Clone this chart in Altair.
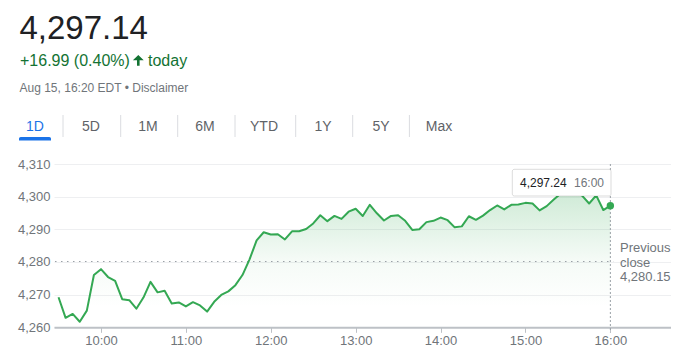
import altair as alt
import pandas as pd

# ---------------- data ----------------
MINUTES = list(range(570, 961, 5))  # 9:30 .. 16:00, 5-minute bars
PRICES = [
    4269.2, 4262.9, 4264.1, 4261.7, 4265.1, 4276.0, 4277.8, 4275.4, 4274.2, 4268.6,
    4268.3, 4265.7, 4269.1, 4273.9, 4270.7, 4271.2, 4267.3, 4267.6, 4266.4, 4267.7,
    4266.7, 4264.8, 4267.8, 4269.9, 4271.0, 4272.9, 4276.0, 4280.8, 4286.6, 4289.1,
    4288.4, 4288.5, 4286.9, 4289.4, 4289.4, 4290.1, 4291.8, 4294.3, 4292.5, 4294.1,
    4293.2, 4295.4, 4296.3, 4294.1, 4297.5, 4294.9, 4292.7, 4294.1, 4294.3, 4292.6,
    4289.8, 4290.0, 4292.2, 4292.6, 4293.6, 4292.8, 4290.6, 4290.9, 4294.0, 4292.9,
    4294.2, 4295.9, 4297.3, 4296.1, 4297.5, 4297.6, 4298.1, 4297.9, 4295.8, 4297.1,
    4299.1, 4301.0, 4301.6, 4301.2, 4300.3, 4297.9, 4300.4, 4295.9, 4297.24,
]
PREV_CLOSE = 4280.15
LAST_TIME = 960
LAST_PRICE = 4297.24
Y_TICKS = [4260, 4270, 4280, 4290, 4300, 4310]
X_TICKS = [600, 660, 720, 780, 840, 900, 960]
HEADLINE = "4,297.14"
CHANGE = "+16.99 (0.40%)"
TODAY = "today"
STAMP = "Aug 15, 16:20 EDT \u2022 Disclaimer"
TABS = ["1D", "5D", "1M", "6M", "YTD", "1Y", "5Y", "Max"]
TOOLTIP_VALUE = "4,297.24"
TOOLTIP_TIME = "16:00"
PREV_LABELS = ["Previous", "close", "4,280.15"]

# ---------------- layout (pixels, relative to plot area) ----------------
W, H = 616.5, 163.3
TAB_X = [-19, 37, 94, 151, 210, 269, 327, 385]
SEP_X = [9, 66.7, 123.7, 181, 241.7, 298.7, 355.4]
FONT = "Arial, Liberation Sans, sans-serif"
GREEN_LINE = "#34a853"
GREEN_TEXT = "#137333"
GRAY = "#70757a"
ARROW_PATH = "M0,-1 L1,-0.05 L0.24,-0.05 L0.24,1 L-0.24,1 L-0.24,-0.05 L-1,-0.05 Z"

df = pd.DataFrame({"m": MINUTES, "p": PRICES})
one = pd.DataFrame({"k": [0]})

x_scale = alt.Scale(domain=[566.8, 1002.5], nice=False, zero=False)
y_scale = alt.Scale(domain=[4260, 4310], nice=False, zero=False)
x_axis = alt.Axis(values=X_TICKS, labelExpr="floor(datum.value/60) + ':00'",
                  grid=False, tickSize=5, tickColor="#bdc1c6", domainColor="#bdc1c6",
                  domainWidth=2, labelColor=GRAY, labelFontSize=13, labelFont=FONT,
                  labelPadding=2, labelOverlap=False, title=None)
y_axis = alt.Axis(values=Y_TICKS, format=",d", ticks=False, domain=False, grid=True,
                  gridColor="#eeeff1", labelColor=GRAY, labelFontSize=13, labelFont=FONT,
                  labelPadding=4, labelOverlap=False, labelBound=False, title=None)

def X(field):
    return alt.X(field, scale=x_scale, axis=x_axis, title=None)

def Y(field):
    return alt.Y(field, scale=y_scale, axis=y_axis, title=None)

def XD(v):
    return alt.XDatum(v, type="quantitative", scale=x_scale, axis=x_axis, title=None)

def YD(v):
    return alt.YDatum(v, type="quantitative", scale=y_scale, axis=y_axis, title=None)

gradient = alt.Gradient(
    gradient="linear",
    stops=[
        alt.GradientStop(color="rgba(52,168,83,0.24)", offset=0),
        alt.GradientStop(color="rgba(52,168,83,0.05)", offset=0.5),
        alt.GradientStop(color="rgba(52,168,83,0.0)", offset=0.85),
    ],
    x1=1, x2=1, y1=0, y2=1,
)

base = alt.Chart(df)
area = base.mark_area(color=gradient, line=False).encode(x=X("m:Q"), y=Y("p:Q"), y2=alt.datum(4260))
line = base.mark_line(color=GREEN_LINE, strokeWidth=2, strokeJoin="round").encode(x=X("m:Q"), y=Y("p:Q"))

prev_rule = alt.Chart(one).mark_rule(color="#9aa0a6", strokeDash=[1.5, 4.5], strokeWidth=1.2).encode(
    x=XD(567.5), x2=alt.datum(962), y=YD(PREV_CLOSE)
)
vert_rule = alt.Chart(one).mark_rule(color="#9aa0a6", strokeDash=[2, 2], strokeWidth=1).encode(
    x=XD(LAST_TIME), y=alt.value(0), y2=alt.value(H + 5)
)
end_dot = alt.Chart(one).mark_circle(color=GREEN_LINE, opacity=1, size=55).encode(
    x=XD(LAST_TIME), y=YD(LAST_PRICE)
)

tip_box = alt.Chart(one).mark_rect(fill="white", stroke="rgba(0,0,0,0.14)", strokeWidth=1, cornerRadius=2).encode(
    x=alt.value(458.3), x2=alt.value(557), y=alt.value(5.3), y2=alt.value(32)
)
tip_val = alt.Chart(one).mark_text(align="left", baseline="middle", font=FONT, fontSize=12, color="#202124").encode(
    x=alt.value(466), y=alt.value(18.5), text=alt.value(TOOLTIP_VALUE)
)
tip_time = alt.Chart(one).mark_text(align="left", baseline="middle", font=FONT, fontSize=12, color=GRAY).encode(
    x=alt.value(520), y=alt.value(18.5), text=alt.value(TOOLTIP_TIME)
)

prev_texts = [
    alt.Chart(one).mark_text(align="left", baseline="middle", font=FONT, fontSize=13, color=GRAY).encode(
        x=alt.value(566), y=alt.value(yy), text=alt.value(t)
    )
    for t, yy in zip(PREV_LABELS, [83.7, 98.7, 113.3])
]

headline = alt.Chart(one).mark_text(align="left", baseline="alphabetic", font=FONT, fontSize=33, color="#202124").encode(
    x=alt.value(-34.5), y=alt.value(-125), text=alt.value(HEADLINE)
)
change = alt.Chart(one).mark_text(align="left", baseline="alphabetic", font=FONT, fontSize=16, color=GREEN_TEXT).encode(
    x=alt.value(-34), y=alt.value(-98.5), text=alt.value(CHANGE)
)
arrow = alt.Chart(one).mark_point(shape=ARROW_PATH, filled=True, opacity=1, size=118, color=GREEN_TEXT, strokeWidth=0).encode(
    x=alt.value(84.3), y=alt.value(-103.6)
)
today = alt.Chart(one).mark_text(align="left", baseline="alphabetic", font=FONT, fontSize=16, color=GREEN_TEXT).encode(
    x=alt.value(94), y=alt.value(-98.5), text=alt.value(TODAY)
)
stamp = alt.Chart(one).mark_text(align="left", baseline="alphabetic", font=FONT, fontSize=12, color=GRAY).encode(
    x=alt.value(-34.5), y=alt.value(-72.3), text=alt.value(STAMP)
)

tab_layers = []
for i, (lab, tx) in enumerate(zip(TABS, TAB_X)):
    tab_layers.append(
        alt.Chart(one).mark_text(align="center", baseline="alphabetic", font=FONT, fontSize=14,
                                 color="#1a73e8" if i == 0 else "#5f6368").encode(
            x=alt.value(tx), y=alt.value(-33.3), text=alt.value(lab)
        )
    )
for sx in SEP_X:
    tab_layers.append(
        alt.Chart(one).mark_rule(color="#dadce0", strokeWidth=1).encode(
            x=alt.value(sx), y=alt.value(-49), y2=alt.value(-27)
        )
    )
underline = alt.Chart(one).mark_rect(color="#1a73e8", cornerRadiusTopLeft=3, cornerRadiusTopRight=3).encode(
    x=alt.value(-35), x2=alt.value(-3), y=alt.value(-27), y2=alt.value(-23.5)
)

chart = alt.layer(
    area, prev_rule, vert_rule, line, end_dot, tip_box, tip_val, tip_time,
    *prev_texts, headline, change, arrow, today, stamp, *tab_layers, underline,
).properties(
    width=W, height=H,
    autosize=alt.AutoSizeParams(type="none"),
    padding={"left": 46, "top": 156, "right": 13.5, "bottom": 20.7},
).configure(background="white").configure_view(stroke=None)

chart.save("out.html", embed_options={"renderer": "svg", "actions": False})
